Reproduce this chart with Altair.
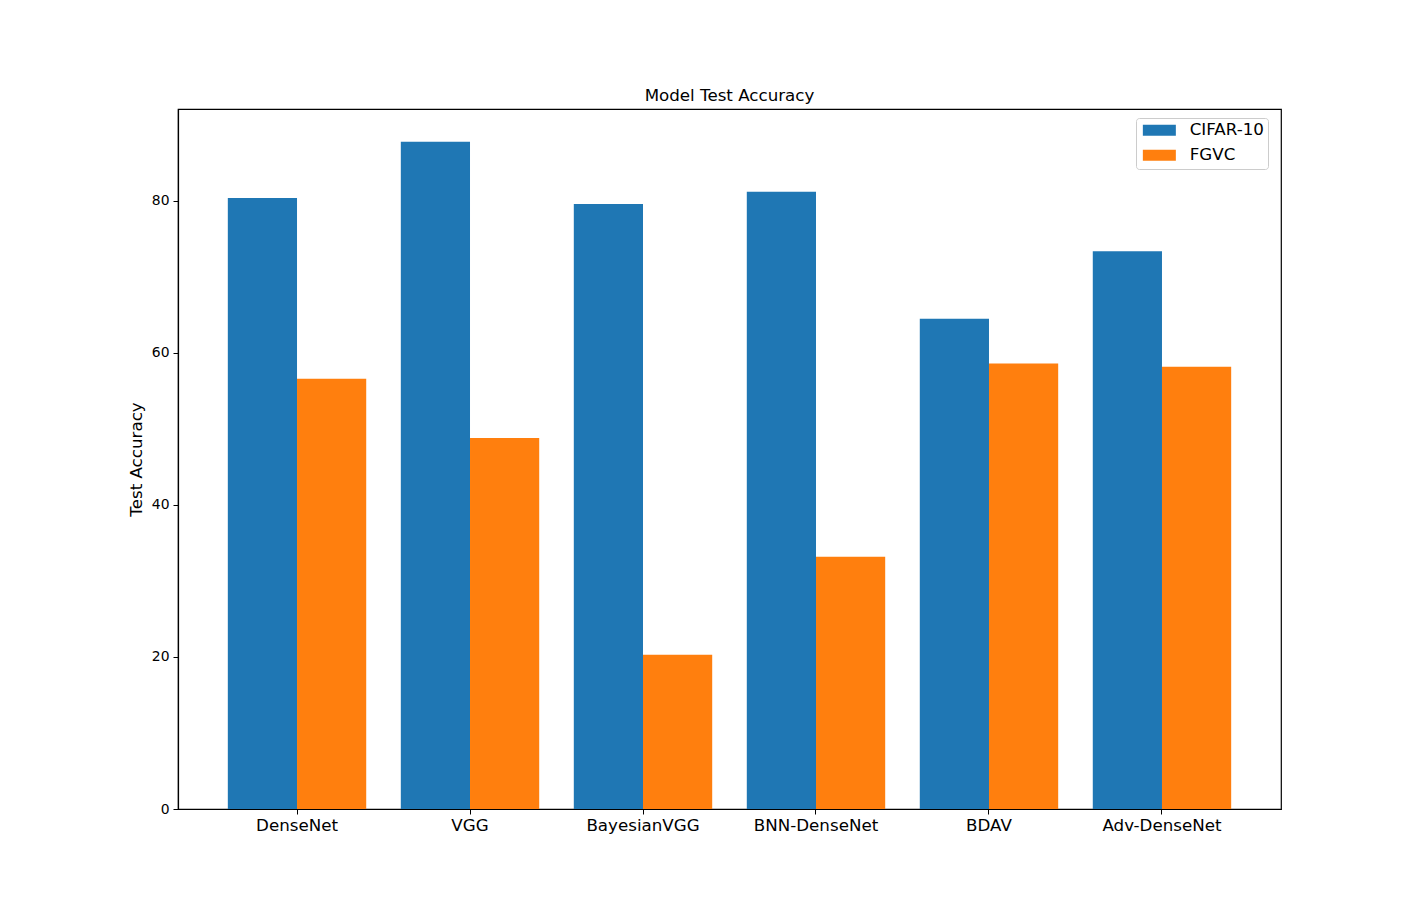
import altair as alt
import pandas as pd

models = ["DenseNet", "VGG", "BayesianVGG", "BNN-DenseNet", "BDAV", "Adv-DenseNet"]
cifar10 = [80.4, 87.8, 79.6, 81.2, 64.5, 73.4]
fgvc = [56.6, 48.8, 20.3, 33.2, 58.6, 58.2]
series = ["CIFAR-10", "FGVC"]
colors = ["#1f77b4", "#ff7f0e"]

rows = []
for m, a, b in zip(models, cifar10, fgvc):
    rows.append({"model": m, "dataset": "CIFAR-10", "acc": a})
    rows.append({"model": m, "dataset": "FGVC", "acc": b})
df = pd.DataFrame(rows)

font = "DejaVu Sans"

chart = alt.Chart(df).mark_bar().encode(
    x=alt.X("model:N", sort=models,
            scale=alt.Scale(paddingInner=0.2, paddingOuter=0.288),
            axis=alt.Axis(title=None, labelAngle=0, labelFontSize=16.7, labelColor="black",
                          labelFont=font, tickColor="black", tickSize=5, labelPadding=3,
                          domainColor="black", domainWidth=1.2, grid=False)),
    xOffset=alt.XOffset("dataset:N", sort=series, scale=alt.Scale(paddingInner=0, paddingOuter=0)),
    y=alt.Y("acc:Q", scale=alt.Scale(domain=[0, 92.1], nice=False, zero=True),
            axis=alt.Axis(title="Test Accuracy", values=[0, 20, 40, 60, 80], titleFontSize=16.7,
                          titleFont=font, titleFontWeight="normal", titleColor="black",
                          titlePadding=6, labelFontSize=13.9, labelFont=font, labelColor="black",
                          tickColor="black", tickSize=5, domainColor="black", domainWidth=1.2,
                          grid=False, labelPadding=4)),
    color=alt.Color("dataset:N", sort=series,
                    scale=alt.Scale(domain=series, range=colors),
                    legend=alt.Legend(title=None, orient="none", legendX=958, legendY=9,
                                      symbolType="M-3,-1H3V1H-3Z", symbolSize=121,
                                      symbolStrokeWidth=0, symbolOpacity=1, symbolOffset=11,
                                      labelFontSize=16.7, labelFont=font, labelColor="black",
                                      labelOffset=22, rowPadding=7, padding=4,
                                      fillColor="white", strokeColor="#cccccc",
                                      cornerRadius=3)),
).properties(
    width=1103, height=700,
    background="white",
    title=alt.TitleParams("Model Test Accuracy", fontSize=16.7, font=font,
                          fontWeight="normal", color="black", offset=4),
    autosize=alt.AutoSizeParams(type="none"),
    padding={"left": 170, "top": 101, "right": 134, "bottom": 92},
).configure_view(stroke="black", strokeWidth=1.2)

chart.save("out.html", embed_options={"renderer": "svg", "actions": False})
